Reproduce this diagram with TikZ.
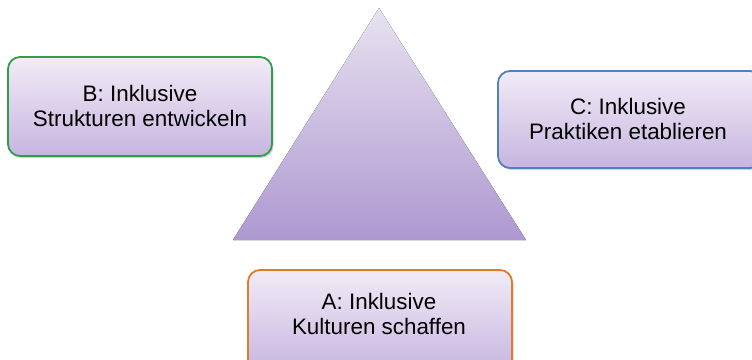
\documentclass[tikz,border=0pt]{standalone}
\usepackage{fontspec}
\setmainfont{Liberation Sans}
\usetikzlibrary{shadows}
\definecolor{boxtop}{HTML}{F1ECF7}
\definecolor{boxbot}{HTML}{C7B5E0}
\definecolor{tritop}{HTML}{E8E2F0}
\definecolor{tribot}{HTML}{AE98D0}
\definecolor{bgreen}{HTML}{2E9E4A}
\definecolor{bblue}{HTML}{4F81BD}
\definecolor{borange}{HTML}{E07A2C}
\begin{document}
\begin{tikzpicture}[x=1pt,y=-1pt,
  labelbox/.style={rounded corners=12pt, line width=1.8pt, top color=boxtop, bottom color=boxbot,
    drop shadow={shadow xshift=1.5pt, shadow yshift=-2pt, opacity=0.35}},
  boxtext/.style={font=\fontsize{22.4}{25}\selectfont, align=center, text=black}]
\useasboundingbox (0,0) rectangle (752,359);
\fill[top color=tritop, bottom color=tribot] (379,8) -- (526,240) -- (233,240) -- cycle;
\path[labelbox, draw=bgreen] (8,57) rectangle (272,156);
\node[boxtext] (b) at (140,106) {B: Inklusive\\Strukturen entwickeln};
\path[labelbox, draw=bblue] (498,71) rectangle (762,168);
\node[boxtext] (c) at (628,119) {C: Inklusive\\Praktiken etablieren};
\path[labelbox, draw=borange] (248,270) rectangle (512,372);
\node[boxtext] (a) at (379,314) {A: Inklusive\\Kulturen schaffen};
\end{tikzpicture}
\end{document}
